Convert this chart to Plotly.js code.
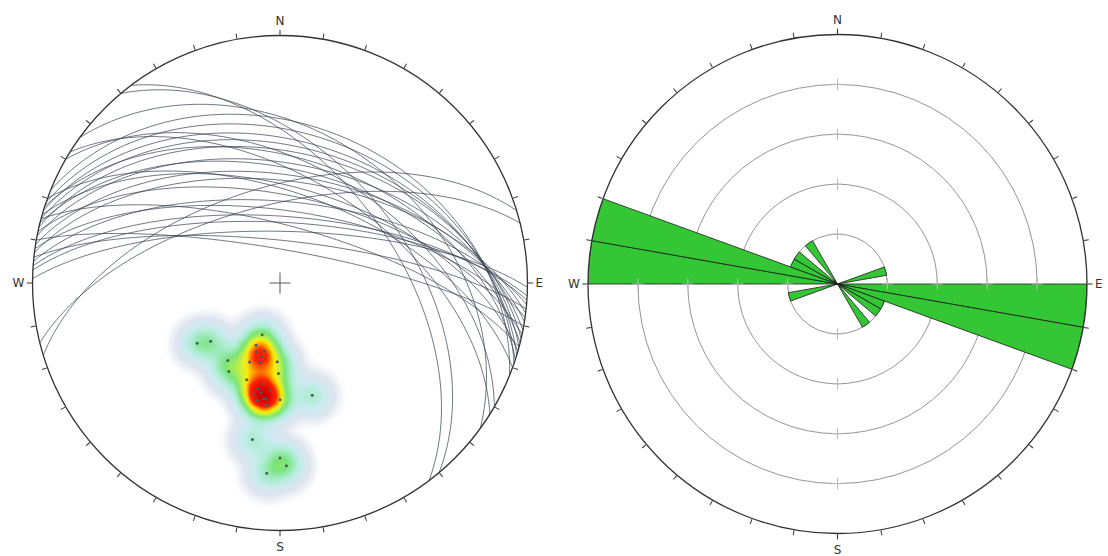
<!DOCTYPE html>
<html><head><meta charset="utf-8">
<script src="https://cdn.plot.ly/plotly-3.0.1.min.js"></script>
<style>html,body{margin:0;padding:0;background:#fff}#chart{width:1108px;height:556px}</style>
</head><body><div id="chart"></div>
<script>
// ---- data ----
// great circles: strike (right-hand rule) and dip, degrees
const planeStrikes = [306,300,302,323,320,290,253,256,292,289,287,285,283,288,281,284,279,277,286,282,275,278,273,271,276,280,274,285];
const planeDips    = [39, 50, 55, 52, 48, 60, 58, 64, 36, 39, 42, 44, 46, 48, 50, 52, 54, 56, 58, 61, 63, 66, 70, 73, 76, 79, 68, 71];
// poles (density cluster): trend and plunge, degrees
const poleTrends  = [234,230,199,201,214,210,182,181,194,199,190,188,180,164,190,180,184,192,187,193,190,185,199,194,201,193,191,186,178];
const polePlunges = [56, 60, 72, 68, 59, 56, 64, 60, 63, 56, 53, 51, 51, 51, 36, 30, 24, 54, 51, 52, 56, 54, 66, 65, 62, 67, 50, 49, 27];
// rose diagram: bin centre azimuths and counts (10 degree bins)
const roseAngles = [75, 95, 105, 115, 125, 145, 255, 275, 285, 295, 305, 325];
const roseCounts = [1,  5,  5,   1,   1,   1,   1,   5,   5,   1,   1,   1];
const roseRings  = [1, 2, 3, 4];
// compass ticks
const tickAngles = [0,10,20,30,40,50,60,70,80,90,100,110,120,130,140,150,160,170,180,190,200,210,220,230,240,250,260,270,280,290,300,310,320,330,340,350];
const tickNames  = {0:'N', 90:'E', 180:'S', 270:'W'};
// density colour levels (kernel-sum values) and colours
const densLevels = [0, 0.04, 0.15, 0.6, 1.2, 1.9, 2.9, 3.5, 4.2, 5.0, 7.5];
const densColors = ['rgba(255,255,255,0)','rgba(236,239,245,0.7)','rgb(222,229,239)','rgb(200,236,238)','rgb(165,236,200)',
                    'rgb(120,228,120)','rgb(205,242,60)','rgb(255,236,0)','rgb(255,150,0)','rgb(255,35,0)','rgb(205,0,0)'];

// ---- helpers ----
const D = Math.PI/180;
function eqArea(plunge){ return Math.SQRT2*Math.sin((90-plunge)/2*D); }
function greatCircle(strike, dip){
  const dd = strike+90;
  const s = [Math.sin(strike*D), Math.cos(strike*D), 0];
  const d = [Math.cos(dip*D)*Math.sin(dd*D), Math.cos(dip*D)*Math.cos(dd*D), Math.sin(dip*D)];
  const r=[], th=[];
  for(let t=0;t<=180;t+=1){
    const c=Math.cos(t*D), sn=Math.sin(t*D);
    const e=c*s[0]+sn*d[0], n=c*s[1]+sn*d[1], z=Math.min(1,c*s[2]+sn*d[2]);
    const pl=Math.asin(z)/D, tr=Math.atan2(e,n)/D;
    r.push(eqArea(pl)); th.push((tr+360)%360);
  }
  return {r, th};
}
const tickText = tickAngles.map(a => tickNames[a] || '');

const traces = [];
// density (cartesian overlay)
const px = poleTrends.map((t,i)=>eqArea(polePlunges[i])*Math.sin(t*D));
const py = poleTrends.map((t,i)=>eqArea(polePlunges[i])*Math.cos(t*D));
const N=181, sig=0.046;
const gx=[], gy=[];
for(let i=0;i<N;i++){ gx.push(-1+2*i/(N-1)); gy.push(-1+2*i/(N-1)); }
const zTop = densLevels[densLevels.length-1];
const z=[];
for(let j=0;j<N;j++){
  const row=[];
  for(let i=0;i<N;i++){
    if(gx[i]*gx[i]+gy[j]*gy[j]>1){ row.push(null); continue; }
    let v=0;
    for(let k=0;k<px.length;k++){
      const dx=gx[i]-px[k], dy=gy[j]-py[k];
      v+=Math.exp(-(dx*dx+dy*dy)/(2*sig*sig));
    }
    row.push(Math.min(v, zTop));
  }
  z.push(row);
}
traces.push({type:'heatmap', x:gx, y:gy, z:z, zmin:0, zmax:zTop, zsmooth:'best', showscale:false, hoverinfo:'skip',
  xaxis:'x', yaxis:'y',
  colorscale: densLevels.map((l,i)=>[l/zTop, densColors[i]])});
traces.push({type:'scatter', mode:'markers', x:px, y:py, xaxis:'x', yaxis:'y', hoverinfo:'skip',
  marker:{size:3, color:'#4a5a68'}});

// great circles (left polar)
for(let i=0;i<planeStrikes.length;i++){
  const g=greatCircle(planeStrikes[i], planeDips[i]);
  traces.push({type:'scatterpolar', subplot:'polar', mode:'lines', r:g.r, theta:g.th, hoverinfo:'skip',
    line:{color:'rgba(55,66,82,0.72)', width:1}});
}
traces.push({type:'scatterpolar', subplot:'polar', mode:'markers', r:[0], theta:[0], hoverinfo:'skip',
  marker:{symbol:'cross-thin', size:15, line:{color:'#555', width:1}}});

// rose diagram (right polar)
traces.push({type:'barpolar', subplot:'polar2', r:roseCounts, theta:roseAngles, width:roseAngles.map(()=>10),
  marker:{color:'#35c635', line:{color:'#1a1a1a', width:0.8}}, hoverinfo:'skip'});
const crossR=[], crossT=[];
[0,90,180,270].forEach(a=>roseRings.forEach(r=>{crossR.push(r); crossT.push(a);}));
traces.push({type:'scatterpolar', subplot:'polar2', mode:'markers', r:crossR, theta:crossT, hoverinfo:'skip',
  marker:{symbol:'cross-thin', size:8, line:{color:'#bbbbbb', width:1}}});

function angAxis(){
  return {rotation:90, direction:'clockwise', tickmode:'array', tickvals:tickAngles, ticktext:tickText,
    ticks:'outside', ticklen:5, tickwidth:1, tickcolor:'#333', showline:true, linecolor:'#333', linewidth:1.3,
    showgrid:false, tickfont:{family:'DejaVu Sans, sans-serif', size:12, color:'#333'}};
}
const leftX=[32.5/1108, 527.5/1108], leftY=[1-530.5/556, 1-35.5/556];
const rightX=[588/1108, 1087/1108], rightY=[1-533.5/556, 1-34.5/556];
const layout={
  width:1108, height:556, margin:{l:0,r:0,t:0,b:0, autoexpand:false},
  paper_bgcolor:'#fff', plot_bgcolor:'rgba(0,0,0,0)', showlegend:false,
  xaxis:{domain:leftX, range:[-1,1], visible:false, fixedrange:true},
  yaxis:{domain:leftY, range:[-1,1], visible:false, fixedrange:true},
  polar:{domain:{x:leftX, y:leftY}, bgcolor:'rgba(0,0,0,0)',
    radialaxis:{range:[0,1], visible:false}, angularaxis:angAxis()},
  polar2:{domain:{x:rightX, y:rightY}, bgcolor:'rgba(0,0,0,0)', bargap:0,
    radialaxis:{range:[0,5], tickvals:roseRings, showticklabels:false, ticks:'', showline:false,
      gridcolor:'#959595', gridwidth:1},
    angularaxis:angAxis()}
};
Plotly.newPlot('chart', traces, layout, {staticPlot:true});
</script></body></html>
